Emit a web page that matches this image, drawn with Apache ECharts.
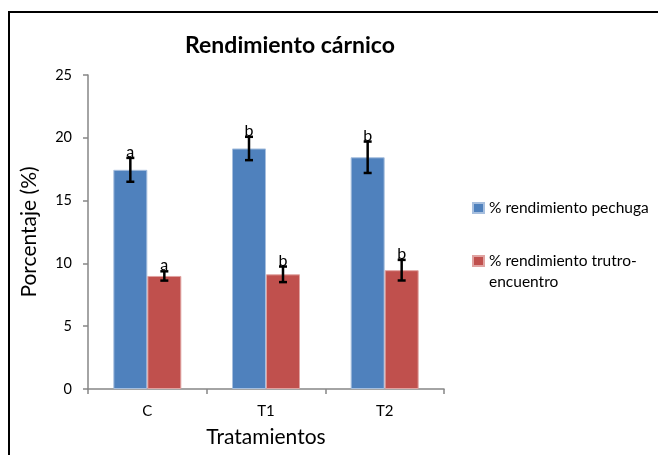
<!DOCTYPE html>
<html>
<head>
<meta charset="utf-8">
<script src="https://cdn.jsdelivr.net/npm/echarts@6/dist/echarts.min.js"></script>
<style>
  html, body { margin: 0; padding: 0; background: #fff; }
  #chart { width: 658px; height: 455px; }
</style>
</head>
<body>
<div id="chart"></div>
<script>
// Treatments on the x axis
const categories = ['C', 'T1', 'T2'];

// Breast yield (%) and its standard error
const pechuga = [17.45, 19.15, 18.45];
const pechugaErr = [0.95, 0.93, 1.25];
const pechugaLetters = ['a', 'b', 'b'];

// Thigh/drumstick yield (%) and its standard error
const trutro = [9.0, 9.13, 9.46];
const trutroErr = [0.37, 0.62, 0.82];
const trutroLetters = ['a', 'b', 'b'];

const yTicks = [0, 5, 10, 15, 20, 25];

const seriesNames = ['% rendimiento pechuga', '% rendimiento trutro-\nencuentro'];
const FONT = 'Lato, "Open Sans", sans-serif';
const BAR_W = 34;

const chart = echarts.init(document.getElementById('chart'));

// Error bar with significance letter, drawn at the bar's dodged position
function errorRenderer(values, errs, letters, side) {
  return function (params, api) {
    const i = api.value(0);
    const v = values[i];
    const e = errs[i];
    const center = api.coord([i, v]);
    const x = center[0] + side * BAR_W / 2;
    const yHi = api.coord([i, v + e])[1];
    const yLo = api.coord([i, v - e])[1];
    const cap = 4;
    const style = { stroke: '#000', lineWidth: 2.5 };
    return {
      type: 'group',
      children: [
        { type: 'line', shape: { x1: x, y1: yHi, x2: x, y2: yLo }, style },
        { type: 'line', shape: { x1: x - cap, y1: yHi, x2: x + cap, y2: yHi }, style },
        { type: 'line', shape: { x1: x - cap, y1: yLo, x2: x + cap, y2: yLo }, style },
        {
          type: 'text',
          style: {
            x: x, y: yHi + 2, text: letters[i],
            align: 'center', verticalAlign: 'bottom',
            font: '16px ' + FONT, fill: '#000'
          }
        }
      ]
    };
  };
}

chart.setOption({
  animation: false,
  backgroundColor: '#fff',
  title: {
    text: 'Rendimiento cárnico',
    left: 285, textAlign: 'center', top: 29,
    textStyle: { fontFamily: FONT, fontWeight: 'bold', fontSize: 23, color: '#000' }
  },
  graphic: [{
    type: 'rect',
    shape: { x: 9, y: 12, width: 700, height: 500 },
    style: { fill: 'none', stroke: '#000', lineWidth: 2 },
    silent: true
  }],
  legend: [
    {
      orient: 'vertical', left: 472, top: 197.5, padding: 0,
      data: [seriesNames[0]],
      itemWidth: 11, itemHeight: 10, itemGap: 0,
      icon: 'rect',
      textStyle: { fontFamily: FONT, fontSize: 15.5, color: '#000', lineHeight: 21 }
    },
    {
      orient: 'vertical', left: 472, top: 229.5, padding: 0,
      data: [seriesNames[1]],
      itemWidth: 11, itemHeight: 10, itemGap: 0,
      icon: 'rect',
      // leading empty line keeps the icon level with the first line of the name
      formatter: name => '\n' + name,
      textStyle: { fontFamily: FONT, fontSize: 15.5, color: '#000', lineHeight: 21 }
    }
  ],
  grid: { left: 88, right: 214, top: 75, bottom: 66, containLabel: false },
  xAxis: {
    type: 'category',
    data: categories,
    name: 'Tratamientos',
    nameLocation: 'middle',
    nameGap: 38,
    nameTextStyle: { fontFamily: FONT, fontSize: 21, color: '#000' },
    axisLine: { lineStyle: { color: '#868686', width: 1.5 } },
    axisTick: { show: true, length: 5, inside: false, alignWithLabel: false, lineStyle: { color: '#868686', width: 1.5 } },
    axisLabel: { fontFamily: FONT, fontSize: 15, color: '#000', margin: 15 }
  },
  yAxis: {
    type: 'value',
    min: 0, max: 25, interval: 5,
    name: 'Porcentaje (%)',
    nameLocation: 'middle',
    nameGap: 48,
    nameRotate: 90,
    nameTextStyle: { fontFamily: FONT, fontSize: 21, color: '#000' },
    axisLine: { show: true, lineStyle: { color: '#868686', width: 1.5 } },
    axisTick: { show: true, length: 5, lineStyle: { color: '#868686', width: 1.5 } },
    axisLabel: {
      fontFamily: FONT, fontSize: 14.5, color: '#000', margin: 16,
      formatter: v => (yTicks.includes(v) ? String(v) : '')
    },
    splitLine: { show: false }
  },
  series: [
    {
      name: seriesNames[0], type: 'bar', data: pechuga,
      barWidth: BAR_W, barGap: '0%',
      itemStyle: { color: '#4F81BD', borderColor: '#A7BFDE', borderWidth: 1 }
    },
    {
      name: seriesNames[1], type: 'bar', data: trutro,
      barWidth: BAR_W, barGap: '0%',
      itemStyle: { color: '#C0504D', borderColor: '#E0A3A1', borderWidth: 1 }
    },
    {
      type: 'custom', name: 'err-pechuga',
      data: categories.map((c, i) => [i]),
      renderItem: errorRenderer(pechuga, pechugaErr, pechugaLetters, -1),
      z: 10, silent: true
    },
    {
      type: 'custom', name: 'err-trutro',
      data: categories.map((c, i) => [i]),
      renderItem: errorRenderer(trutro, trutroErr, trutroLetters, 1),
      z: 10, silent: true
    }
  ]
});
</script>
</body>
</html>
